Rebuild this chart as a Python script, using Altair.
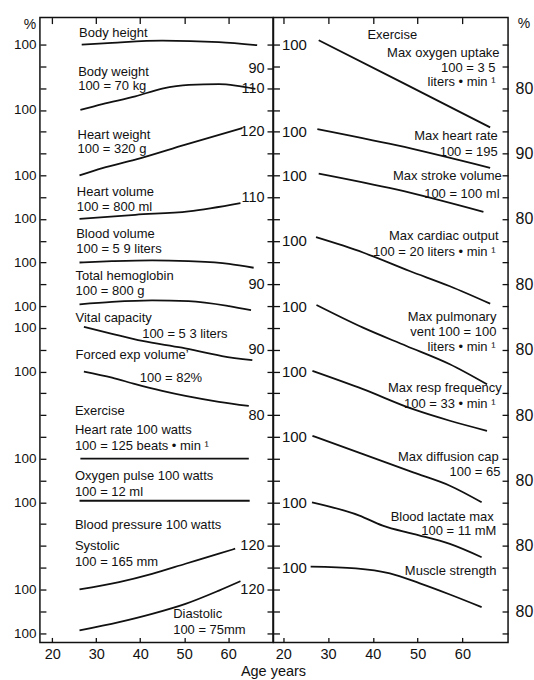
import altair as alt
import pandas as pd

# ---------------- data ----------------
# Left panel curves: name, position of the 100 % level (in tick rows), ages, percent values
left_names = ["Body height", "Body weight", "Heart weight", "Heart volume", "Blood volume",
              "Total hemoglobin", "Vital capacity", "Forced exp volume", "Heart rate 100 W",
              "Oxygen pulse 100 W", "Systolic", "Diastolic"]
left_bases = [0, 3, 6, 8, 10, 11.92, 12.95, 15, 19, 20.93, 25, 26.88]
left_ages = [
    [26.7, 33.6, 45, 57.9, 66.6],
    [26.4, 31.4, 38.9, 45, 51.1, 57.9, 61.7, 66.2],
    [26.2, 31.4, 38.9, 50.3, 63.2],
    [26.2, 38.9, 51, 62.8],
    [26.2, 33.6, 42.7, 51, 60.2, 65.8],
    [26.2, 33.6, 42.7, 51, 60.2, 65.2],
    [27.2, 33.6, 40.5, 49.5, 58.6, 65.5],
    [27.2, 33.6, 38.9, 45, 50.3, 57.9, 64.7],
    [26.4, 45, 64.7],
    [26.2, 45, 64.9],
    [26.2, 35.2, 42.7, 50.3, 57.9, 61.6],
    [26.2, 35.2, 42.7, 50.3, 57.9, 62.8],
]
left_pcts = [
    [100, 100.8, 101.8, 101.1, 99.7],
    [100, 102.7, 106.2, 109.8, 111.5, 111.8, 111.2, 109.7],
    [100, 103.3, 107.2, 114.1, 121.7],
    [100, 101.9, 103.5, 107.3],
    [100, 100.6, 101, 100.6, 99.4, 97.6],
    [100, 101.1, 101.8, 101.5, 99.2, 97.3],
    [100, 96.8, 93.5, 90.4, 86.6, 84.7],
    [100, 97.2, 94.2, 91.1, 88.8, 86.1, 84.2],
    [100, 100, 100],
    [100, 100, 100],
    [100, 103.4, 107.2, 111.8, 116.4, 118.7],
    [100, 103.8, 107.6, 112.2, 118.3, 122.6],
]

right_names = ["Max oxygen uptake", "Max heart rate", "Max stroke volume", "Max cardiac output",
               "Max pulmonary vent", "Max resp frequency", "Max diffusion cap",
               "Blood lactate max", "Muscle strength"]
right_bases = [0, 4, 6, 9, 12, 15, 18, 21, 24]
right_ages = [
    [27.9, 46.7, 66.2],
    [27.6, 45.2, 66.2],
    [27.9, 45.2, 64.7],
    [27.3, 37.8, 48.2, 57.2, 66.2],
    [27.4, 37.8, 47.5, 57.2, 65.5],
    [26.5, 37.8, 49, 57.2, 65.5],
    [26.5, 37.8, 49, 57.2, 64.3],
    [26.4, 37, 42.2, 49, 57.2, 64.3],
    [26.1, 36.2, 43.8, 50.5, 57.2, 64.3],
]
right_pcts = [
    [102, 82.4, 62],
    [101.2, 93.8, 83.4],
    [100.8, 93.5, 83.2],
    [101.6, 94.6, 86.1, 79.1, 71.1],
    [100.5, 90.1, 81.7, 73.3, 64.1],
    [100.3, 91.9, 82.7, 77.4, 72.8],
    [100.5, 92.1, 83.7, 77.6, 70],
    [100, 93.9, 89.3, 85.5, 80.9, 74.8],
    [100.5, 99.7, 97.4, 92.8, 87.7, 81.9],
]

# Annotations: text, age, row
left_labels = ["Body height", "Body weight", "100 = 70 kg", "Heart weight", "100 = 320 g",
               "Heart volume", "100 = 800 ml", "Blood volume", "100 = 5 9 liters",
               "Total hemoglobin", "100 = 800 g", "Vital capacity", "100 = 5 3 liters",
               "Forced exp  volume\u2019", "100 = 82%", "Exercise", "Heart rate  100 watts",
               "100 = 125 beats \u2022 min \u00b9", "Oxygen pulse  100 watts", "100 = 12 ml",
               "Blood pressure  100 watts", "Systolic", "100 = 165 mm", "Diastolic", "100 = 75mm"]
left_label_age = [26.1, 25.9, 25.9, 25.75, 25.75, 25.6, 25.6, 25.45, 25.45, 25.3, 25.3, 25.3,
                  40.45, 25.3, 39.9, 25.15, 25.15, 25.15, 25.15, 25.15, 25.15, 25.15, 25.15,
                  47.5, 47.5]
left_label_row = [-0.52, 1.24, 1.9, 4.13, 4.81, 6.78, 7.47, 8.71, 9.4, 10.62, 11.31, 12.56,
                  13.26, 14.24, 15.28, 16.8, 17.7, 18.4, 19.78, 20.51, 22.04, 23.01, 23.72,
                  26.12, 26.87]

right_labels = ["Exercise", "Max  oxygen uptake", "100 = 3 5", "liters \u2022 min \u00b9",
                "Max  heart rate", "100 = 195", "Max  stroke volume", "100 = 100 ml",
                "Max  cardiac output", "100 = 20 liters \u2022 min \u00b9", "Max  pulmonary",
                "vent  100 = 100", "liters \u2022 min \u00b9", "Max  resp  frequency",
                "100 = 33 \u2022 min \u00b9", "Max  diffusion cap", "100 = 65",
                "Blood lactate  max", "100 = 11 mM", "Muscle strength"]
right_label_age = [49.9, 68.3, 67.4, 67.4, 67.9, 67.9, 68.8, 68.3, 68.1, 67.4, 67.6, 67.6,
                   67.4, 68.8, 67.4, 68.1, 68.5, 67.0, 67.6, 67.6]
right_label_row = [-0.44, 0.37, 1.08, 1.74, 4.21, 4.95, 6.04, 6.85, 8.79, 9.51, 12.49, 13.19,
                   13.87, 15.74, 16.5, 18.91, 19.63, 21.66, 22.33, 24.16]

# Axis labels
age_ticks = [20, 30, 40, 50, 60]
row_ticks = list(range(28))
left_axis_rows = [0, 3, 6, 8, 10, 12, 13, 15, 19, 21, 25, 27]          # "100"
mid_left_rows = [1.1, 2, 4, 7, 11, 14, 17, 23, 25]
mid_left_text = ["90", "110", "120", "110", "90", "90", "80", "120", "120"]
mid_right_rows = [0, 4, 6, 9, 12, 15, 18, 21, 24]                      # "100"
right_axis_rows = [2, 5, 8, 11, 14, 17, 20, 23, 26]
right_axis_text = ["80", "90", "80", "80", "80", "80", "80", "80", "80"]

# ---------------- build tables ----------------
def curves(names, bases, ages, pcts):
    rows = []
    for n, b, a, p in zip(names, bases, ages, pcts):
        for ai, pi in zip(a, p):
            rows.append({"series": n, "base": b, "age": ai, "pct": pi})
    return pd.DataFrame(rows)

left_df = curves(left_names, left_bases, left_ages, left_pcts)
right_df = curves(right_names, right_bases, right_ages, right_pcts)
left_txt = pd.DataFrame({"label": left_labels, "age": left_label_age, "row": left_label_row})
right_txt = pd.DataFrame({"label": right_labels, "age": right_label_age, "row": right_label_row})

def label_expr(vals, texts):
    expr = "''"
    for v, t in zip(reversed(vals), reversed(texts)):
        expr = f"datum.value == {v} ? '{t}' : ({expr})"
    return expr

FONT = "Liberation Sans"
INK = "#111111"
LW, RW, H = 233.5, 235, 626
Y_DOM = [-1.236, 27.43]

def yscale():
    return alt.Scale(domain=Y_DOM, reverse=True, nice=False, zero=False)

def xscale(dom):
    return alt.Scale(domain=dom, nice=False, zero=False)

common_axis = dict(domain=False, grid=False, tickColor=INK, labelColor=INK, tickWidth=1.3,
                   labelFont=FONT, titleFont=FONT, titleColor=INK, titleFontWeight="normal")

# ---------------- left panel ----------------
LX = [17.2, 70.2]
left_lines = alt.Chart(left_df).transform_calculate(
    k="datum.base + (100 - datum.pct) / 10"
).mark_line(color=INK, strokeWidth=1.8, interpolate="monotone").encode(
    x=alt.X("age:Q", scale=xscale(LX),
            axis=alt.Axis(orient="bottom", values=age_ticks, offset=-5, tickSize=5,
                          labelPadding=5, labelFontSize=14.5, title="Age  years",
                          titleX=LW, titleY=34, titleAlign="center", titleBaseline="middle",
                          titleFontSize=14.5, **common_axis)),
    y=alt.Y("k:Q", scale=yscale(),
            axis=alt.Axis(orient="left", values=row_ticks, offset=-6, tickSize=6,
                          labelPadding=4, labelFontSize=13.5,
                          labelExpr=label_expr(left_axis_rows, ["100"] * len(left_axis_rows)),
                          title="%", titleAngle=0, titleX=-16.5, titleY=7, titleAlign="center",
                          titleBaseline="middle", titleFontSize=14, **common_axis)),
    detail="series:N",
)

mid_vals = [0, 1.1] + list(range(2, 28))
left_text = alt.Chart(left_txt).mark_text(
    align="left", baseline="middle", font=FONT, fontSize=13, color=INK
).encode(
    x=alt.X("age:Q", scale=xscale(LX),
            axis=alt.Axis(orient="top", values=age_ticks, offset=-6, tickSize=6,
                          labels=False, title=None, **common_axis)),
    y=alt.Y("row:Q", scale=yscale(),
            axis=alt.Axis(orient="left", values=mid_vals, offset=-LW, tickSize=6,
                          labelPadding=3, labelFontSize=14.5,
                          labelExpr=label_expr(mid_left_rows, mid_left_text),
                          title=None, **common_axis)),
    text="label:N",
)

left = alt.layer(left_lines, left_text).resolve_axis(
    x="independent", y="independent"
).properties(width=LW, height=H)

# ---------------- right panel ----------------
RX = [17.8, 70.2]
right_lines = alt.Chart(right_df).transform_calculate(
    k="datum.base + (100 - datum.pct) / 10"
).mark_line(color=INK, strokeWidth=1.8, interpolate="monotone").encode(
    x=alt.X("age:Q", scale=xscale(RX),
            axis=alt.Axis(orient="bottom", values=age_ticks, offset=-5, tickSize=5,
                          labelPadding=5, labelFontSize=14.5, title=None, **common_axis)),
    y=alt.Y("k:Q", scale=yscale(),
            axis=alt.Axis(orient="right", values=row_ticks, offset=-RW, tickSize=6,
                          labelPadding=2, labelFontSize=15,
                          labelExpr=label_expr(mid_right_rows, ["100"] * len(mid_right_rows)),
                          title=None, **common_axis)),
    detail="series:N",
)

right_text = alt.Chart(right_txt).mark_text(
    align="right", baseline="middle", font=FONT, fontSize=13, color=INK
).encode(
    x=alt.X("age:Q", scale=xscale(RX),
            axis=alt.Axis(orient="top", values=age_ticks, offset=-6, tickSize=6,
                          labels=False, title=None, **common_axis)),
    y=alt.Y("row:Q", scale=yscale(),
            axis=alt.Axis(orient="right", values=row_ticks, offset=-6, tickSize=6,
                          labelPadding=7, labelFontSize=16,
                          labelExpr=label_expr(right_axis_rows, right_axis_text),
                          title="%", titleAngle=0, titleX=21.5, titleY=5.5,
                          titleAlign="center", titleBaseline="middle", titleFontSize=14,
                          **common_axis)),
    text="label:N",
)

right = alt.layer(right_lines, right_text).resolve_axis(
    x="independent", y="independent"
).properties(width=RW, height=H)

chart = alt.hconcat(left, right, spacing=0, bounds="flush").properties(
    padding={"left": 12, "top": 14, "right": 0, "bottom": 0},
    background="white",
).configure(font=FONT).configure_view(stroke=INK, strokeWidth=1.5)

chart.save("out.html", embed_options={"renderer": "svg", "actions": False})
